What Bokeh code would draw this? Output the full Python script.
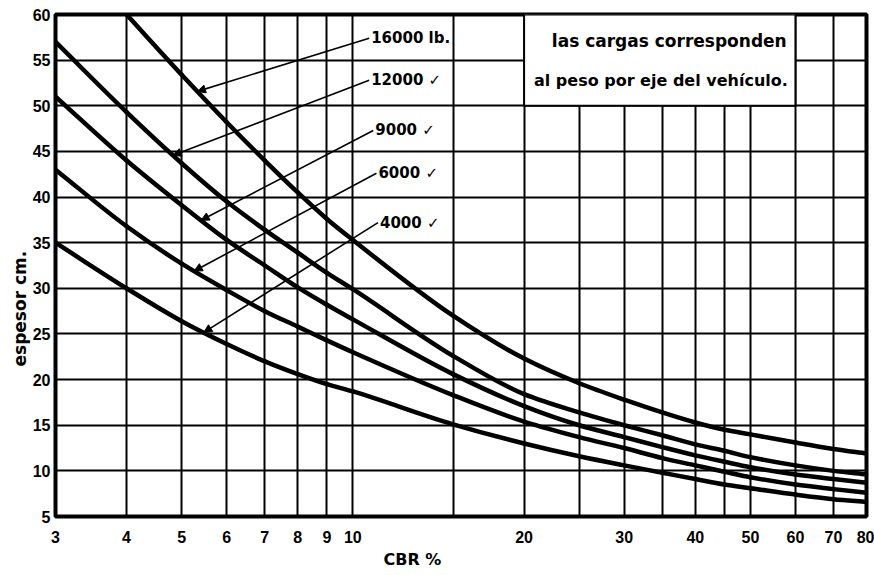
import numpy as np
from bokeh.plotting import figure
from bokeh.models import (FixedTicker, BasicTickFormatter, Range1d, Arrow,
                          NormalHead, Title)
from bokeh.embed import file_html
from bokeh.resources import INLINE
from bokeh.core.properties import value

# ---------------- data ----------------
cbr = [3, 4, 5, 6, 7, 8, 9, 10, 15, 20, 25, 30, 35, 40, 45, 50, 60, 70, 80]
cbr_16000 = [4, 5, 6, 7, 8, 9, 10, 15, 20, 25, 30, 35, 40, 45, 50, 60, 70, 80]

esp_16000 = [60, 53.4, 48.2, 44.0, 40.5, 37.6, 35.3, 27.0, 22.3, 19.6, 17.8, 16.4,
             15.3, 14.5, 14.0, 13.1, 12.4, 11.9]
esp_12000 = [57, 49.3, 43.7, 39.5, 36.4, 33.9, 31.7, 29.9, 22.6, 18.4, 16.4, 15.0,
             13.9, 12.9, 12.2, 11.5, 10.6, 10.0, 9.6]
esp_9000 = [51, 44.0, 39.1, 35.3, 32.5, 30.1, 28.2, 26.6, 20.6, 17.1, 15.0, 13.7,
            12.6, 11.7, 11.0, 10.4, 9.6, 9.1, 8.7]
esp_6000 = [43, 36.8, 32.7, 29.8, 27.5, 25.8, 24.3, 23.0, 18.3, 15.4, 13.7, 12.5,
            11.4, 10.6, 9.9, 9.3, 8.5, 8.0, 7.6]
esp_4000 = [35, 30.0, 26.4, 23.9, 22.0, 20.6, 19.5, 18.7, 15.1, 13.0, 11.6, 10.6,
            9.8, 9.1, 8.5, 8.1, 7.4, 6.9, 6.6]

x_ticks = [3, 4, 5, 6, 7, 8, 9, 10, 20, 30, 40, 50, 60, 70, 80]
x_grid = [3, 4, 5, 6, 7, 8, 9, 10, 15, 20, 25, 30, 35, 40, 45, 50, 60, 70, 80]
y_ticks = [5, 10, 15, 20, 25, 30, 35, 40, 45, 50, 55, 60]

# curve labels (leader start) and the CBR where each leader touches its curve
load_text = ["16000 lb.", "12000 \u2713", "9000 \u2713", "6000 \u2713", "4000 \u2713"]
load_lab_x = [10.68, 10.68, 10.86, 11.0, 11.07]
load_lab_y = [57.4, 52.8, 47.3, 42.6, 37.2]
load_hit_x = [5.33, 4.83, 5.41, 5.26, 5.47]

note_lines = ["las cargas corresponden", "al peso por eje del veh\u00edculo."]
note_x = [36.0, 34.8]
note_y = [57.15, 52.8]
note_box_x = [20, 60]
note_box_y = [50, 60]

# ---------------- figure ----------------
p = figure(width=874, height=575, x_axis_type="log",
           x_range=Range1d(3, 80), y_range=Range1d(5, 60),
           output_backend="svg", toolbar_location=None,
           min_border_left=55, min_border_right=8,
           min_border_top=14, min_border_bottom=59)

p.background_fill_color = "white"
p.border_fill_color = "white"
p.outline_line_color = "black"
p.outline_line_width = 4

p.xaxis.ticker = FixedTicker(ticks=x_ticks)
p.xaxis.formatter = BasicTickFormatter()
p.yaxis.ticker = FixedTicker(ticks=y_ticks)
p.xgrid.ticker = FixedTicker(ticks=x_grid)
p.ygrid.ticker = FixedTicker(ticks=y_ticks)
for g in (p.xgrid, p.ygrid):
    g.grid_line_color = "black"
    g.grid_line_width = 2
    g.grid_line_alpha = 1.0

for ax in (p.xaxis, p.yaxis):
    ax.axis_line_color = None
    ax.major_tick_line_color = None
    ax.minor_tick_line_color = None
    ax.major_tick_in = 0
    ax.major_tick_out = 0
    ax.minor_tick_in = 0
    ax.minor_tick_out = 0
    ax.major_label_text_font = "Liberation Sans"
    ax.major_label_text_font_style = "bold"
    ax.major_label_text_font_size = "16px"
    ax.major_label_text_color = "black"
p.xaxis.major_label_standoff = 14
p.yaxis.major_label_standoff = 5

# note box (covers grid)
p.quad(left=[note_box_x[0]], right=[note_box_x[1]], bottom=[note_box_y[0]],
       top=[note_box_y[1]], fill_color="white", line_color="black", line_width=2)


def smooth_segments(xs, ys):
    """Cubic Hermite (monotone) bezier pieces through the read points,
    built in log-x space so they map straight onto the log axis."""
    u = np.log10(np.asarray(xs, float))
    y = np.asarray(ys, float)
    h = np.diff(u)
    d = np.diff(y) / h
    m = np.zeros(len(u))
    m[0], m[-1] = d[0], d[-1]
    for k in range(1, len(u) - 1):
        if d[k - 1] * d[k] <= 0:
            m[k] = 0.0
        else:
            w1 = 2 * h[k] + h[k - 1]
            w2 = h[k] + 2 * h[k - 1]
            m[k] = (w1 + w2) / (w1 / d[k - 1] + w2 / d[k])
    return dict(x0=10 ** u[:-1], y0=y[:-1], x1=10 ** u[1:], y1=y[1:],
                cx0=10 ** (u[:-1] + h / 3), cy0=y[:-1] + m[:-1] * h / 3,
                cx1=10 ** (u[1:] - h / 3), cy1=y[1:] - m[1:] * h / 3)


series = [(cbr_16000, esp_16000), (cbr, esp_12000), (cbr, esp_9000),
          (cbr, esp_6000), (cbr, esp_4000)]
for xs, ys in series:
    seg = smooth_segments(xs, ys)
    p.bezier(line_width=4.5, line_color="black", line_cap="round", **seg)

# leaders with small arrow heads
for (xs, ys), lx, ly, hx in zip(series, load_lab_x, load_lab_y, load_hit_x):
    hy = float(np.interp(np.log10(hx), np.log10(xs), ys))
    p.add_layout(Arrow(x_start=lx, y_start=ly, x_end=hx, y_end=hy,
                       line_width=1.6, line_color="black",
                       end=NormalHead(size=8, fill_color="black",
                                      line_color="black", line_width=1)))

p.text(x=load_lab_x, y=load_lab_y, text=load_text, x_offset=2,
       text_font=value("DejaVu Sans"), text_font_style="bold",
       text_font_size="15px", text_baseline="middle", text_align="left",
       text_color="black")

p.text(x=note_x[:1], y=note_y[:1], text=note_lines[:1],
       text_font=value("DejaVu Sans"), text_font_style="bold",
       text_font_size="17px", text_baseline="middle", text_align="center",
       text_color="black")
p.text(x=note_x[1:], y=note_y[1:], text=note_lines[1:],
       text_font=value("DejaVu Sans"), text_font_style="bold",
       text_font_size="16px", text_baseline="middle", text_align="center",
       text_color="black")

# axis titles
p.add_layout(Title(text="CBR %", align="left", offset=328,
                   text_font="DejaVu Sans", text_font_style="bold",
                   text_font_size="16px", text_color="black", standoff=4),
             "below")
p.add_layout(Title(text="espesor cm.", align="left", offset=150,
                   text_font="DejaVu Sans", text_font_style="bold",
                   text_font_size="17px", text_color="black", standoff=0),
             "left")

open("out.html", "w").write(file_html(p, INLINE))
